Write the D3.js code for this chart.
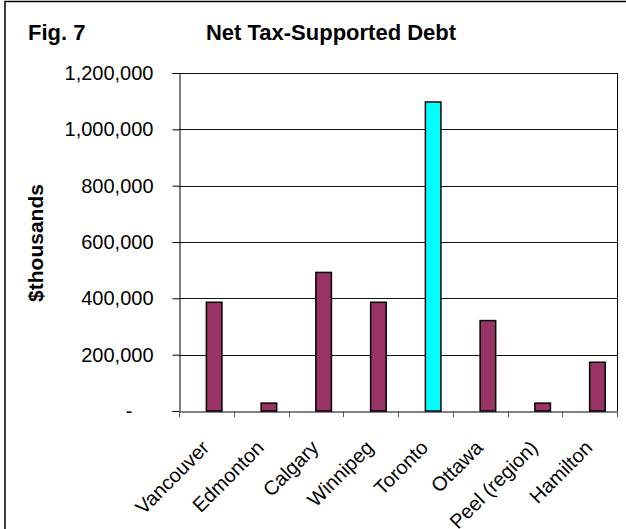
<!DOCTYPE html>
<html><head><meta charset="utf-8">
<script src="https://cdn.jsdelivr.net/npm/d3@7/dist/d3.min.js"></script>
<style>body{margin:0;background:#fff}svg{display:block}text{font-family:Arial,"Liberation Sans",sans-serif}</style>
</head><body><svg id="c" width="626" height="529"></svg>
<script>
const categories = ["Vancouver","Edmonton","Calgary","Winnipeg","Toronto","Ottawa","Peel (region)","Hamilton"];
const values = [386000, 28000, 492000, 386000, 1097000, 321000, 28000, 173000];
const highlight = ["Toronto"];
const yTicks = [0, 200000, 400000, 600000, 800000, 1000000, 1200000];
const figLabel = "Fig. 7";
const title = "Net Tax-Supported Debt";
const yTitle = "$thousands";

const svg = d3.select("#c");
const L = 179, R = 617, T = 73, B = 411;

// outer frame
svg.append("rect").attr("x",5).attr("y",1.5).attr("width",640).attr("height",560)
  .attr("fill","none").attr("stroke","#000").attr("stroke-width",1.5);

const x = d3.scaleBand().domain(categories).range([L,R]).padding(0);
const bw = x.bandwidth();
const inner = d3.scaleBand().domain(["s0","s1"]).range([bw/2 - bw*0.284, bw/2 + bw*0.284]);
const y = d3.scaleLinear().domain([0,1200000]).range([B,T]);

// gridlines
svg.append("g").selectAll("line").data(yTicks.filter(d=>d>0)).join("line")
  .attr("x1",L).attr("x2",R).attr("y1",d=>Math.round(y(d))+0.5).attr("y2",d=>Math.round(y(d))+0.5)
  .attr("stroke","#111").attr("stroke-width",1);
// right border
svg.append("line").attr("x1",R+0.5).attr("x2",R+0.5).attr("y1",T).attr("y2",B+6)
  .attr("stroke","#000");

// bars
svg.append("g").selectAll("rect").data(categories).join("rect")
  .attr("x",(d)=>x(d)+inner("s1"))
  .attr("width",inner.bandwidth())
  .attr("y",(d,i)=>y(values[i]))
  .attr("height",(d,i)=>B - y(values[i]))
  .attr("fill",d=>highlight.includes(d)?"#00FFFF":"#993366")
  .attr("stroke","#000").attr("stroke-width",1.5);

// y axis
const fmt = d3.format(",");
const yAxis = d3.axisLeft(y).tickValues(yTicks).tickSize(7).tickPadding(19)
  .tickFormat(d=>d===0?"-":fmt(d));
const gy = svg.append("g").attr("transform",`translate(${L+0.5},0)`).call(yAxis);
gy.select(".domain").attr("stroke","#000");
gy.selectAll(".tick line").attr("stroke","#000");
gy.selectAll(".tick text").attr("font-size",20).attr("fill","#000")
  .attr("font-family","Arial, 'Liberation Sans', sans-serif")
  .attr("dx",d=>d===0?-21:0);

// x axis
const xAxis = d3.axisBottom(x).tickSize(0).tickFormat("");
const gx = svg.append("g").attr("transform",`translate(0,${B+0.5})`).call(xAxis);
gx.select(".domain").attr("stroke","#000");
gx.selectAll(".tick").remove();
const bounds = categories.map(c=>x(c)).concat([R]);
svg.append("g").selectAll("line").data(bounds).join("line")
  .attr("x1",d=>Math.round(d)+0.5).attr("x2",d=>Math.round(d)+0.5)
  .attr("y1",B).attr("y2",B+6).attr("stroke","#555");

// category labels
svg.append("g").selectAll("text").data(categories).join("text")
  .attr("transform",d=>`translate(${x(d)+bw/2+4},449) rotate(-45)`)
  .attr("text-anchor","end").attr("font-size",20).attr("fill","#000")
  .text(d=>d);

// titles
svg.append("text").attr("x",28).attr("y",40).attr("font-size",22).attr("font-weight","bold").text(figLabel);
svg.append("text").attr("x",331).attr("y",40).attr("text-anchor","middle").attr("font-size",22).attr("font-weight","bold").text(title);
svg.append("text").attr("transform","translate(43,243) rotate(-90)").attr("text-anchor","middle")
  .attr("font-size",21).attr("font-weight","bold").text(yTitle);
</script></body></html>
